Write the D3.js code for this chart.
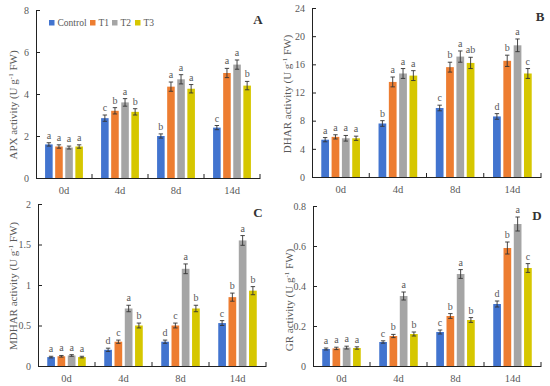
<!DOCTYPE html>
<html>
<head>
<meta charset="utf-8">
<script src="https://cdn.jsdelivr.net/npm/d3@7"></script>
<style>
  body { margin: 0; background: #fff; }
  svg { display: block; font-family: "Liberation Serif", "Times New Roman", serif; }
</style>
</head>
<body>
<svg id="chart" width="550" height="386"></svg>
<script>
// categories and series
const days = ["0d", "4d", "8d", "14d"];
const treatments = ["Control", "T1", "T2", "T3"];

// values per day: [Control, T1, T2, T3]
const apxMean = [[1.6, 1.5, 1.45, 1.5], [2.85, 3.2, 3.6, 3.15], [2.0, 4.35, 4.7, 4.25], [2.4, 5.0, 5.4, 4.4]];
const apxErr = [[0.08, 0.08, 0.07, 0.08], [0.15, 0.15, 0.18, 0.15], [0.1, 0.22, 0.22, 0.2], [0.1, 0.22, 0.22, 0.2]];
const apxLetters = [["a", "a", "a", "a"], ["c", "b", "a", "b"], ["b", "a", "a", "a"], ["c", "a", "a", "b"]];

const dharMean = [[5.3, 5.7, 5.5, 5.5], [7.6, 13.5, 14.7, 14.4], [9.8, 15.6, 17.1, 16.2], [8.6, 16.5, 18.7, 14.7]];
const dharErr = [[0.3, 0.3, 0.4, 0.3], [0.4, 0.7, 0.7, 0.7], [0.4, 0.7, 0.8, 0.8], [0.4, 0.8, 0.9, 0.7]];
const dharLetters = [["a", "a", "a", "a"], ["b", "a", "a", "a"], ["c", "b", "a", "ab"], ["d", "b", "a", "c"]];

const mdharMean = [[0.11, 0.12, 0.13, 0.11], [0.2, 0.3, 0.71, 0.5], [0.3, 0.5, 1.2, 0.71], [0.53, 0.85, 1.55, 0.93]];
const mdharErr = [[0.01, 0.01, 0.01, 0.01], [0.02, 0.02, 0.04, 0.03], [0.02, 0.03, 0.06, 0.04], [0.03, 0.05, 0.06, 0.05]];
const mdharLetters = [["a", "a", "a", "a"], ["d", "c", "a", "b"], ["d", "c", "a", "b"], ["c", "b", "a", "b"]];

const grMean = [[0.085, 0.088, 0.092, 0.09], [0.12, 0.15, 0.35, 0.16], [0.17, 0.25, 0.46, 0.23], [0.31, 0.59, 0.71, 0.49]];
const grErr = [[0.005, 0.006, 0.007, 0.006], [0.006, 0.008, 0.02, 0.01], [0.01, 0.012, 0.022, 0.012], [0.015, 0.03, 0.035, 0.022]];
const grLetters = [["a", "a", "a", "a"], ["c", "b", "a", "b"], ["c", "b", "a", "b"], ["d", "b", "a", "c"]];

// y tick labels
const apxTicks = [0, 2, 4, 6, 8];
const dharTicks = [0, 4, 8, 12, 16, 20, 24];
const mdharTicks = [0, 0.5, 1, 1.5, 2];
const grTicks = [0, 0.2, 0.4, 0.6, 0.8];

const colors = ["#4274CF", "#ED7D31", "#A5A5A5", "#D6C700"];
const textColor = "#595959";

const svg = d3.select("#chart");

const panels = [
  { mean: apxMean, err: apxErr, letters: apxLetters, ticks: apxTicks, enzyme: "APX", tag: "A",
    left: 36, right: 260, top: 10, bottom: 178, titleX: 17, titleY: 105, tagX: 258, tagY: 24, legend: true },
  { mean: dharMean, err: dharErr, letters: dharLetters, ticks: dharTicks, enzyme: "DHAR", tag: "B",
    left: 312, right: 541, top: 8, bottom: 177, titleX: 291, titleY: 94, tagX: 540, tagY: 21 },
  { mean: mdharMean, err: mdharErr, letters: mdharLetters, ticks: mdharTicks, enzyme: "MDHAR", tag: "C",
    left: 38, right: 266, top: 204, bottom: 366, titleX: 17, titleY: 286, tagX: 258, tagY: 217 },
  { mean: grMean, err: grErr, letters: grLetters, ticks: grTicks, enzyme: "GR", tag: "D",
    left: 313, right: 541, top: 206, bottom: 366, titleX: 293, titleY: 300, tagX: 537, tagY: 220 },
];

panels.forEach((p) => drawPanel(p));

function drawPanel(p) {
  const g = svg.append("g");

  const x0 = d3.scaleBand().domain(days).range([p.left, p.right]).padding(0);
  const x1 = d3.scaleBand().domain(treatments).range([0, x0.bandwidth()])
    .paddingInner(0.25).paddingOuter(0.9);
  const y = d3.scaleLinear().domain([0, d3.max(p.ticks)]).range([p.bottom, p.top]);

  // bars
  const rows = [];
  days.forEach((d, i) => treatments.forEach((t, j) => rows.push({
    day: d, trt: t, j, v: p.mean[i][j], e: p.err[i][j], l: p.letters[i][j]
  })));

  g.append("g").selectAll("rect").data(rows).join("rect")
    .attr("x", (d) => x0(d.day) + x1(d.trt))
    .attr("y", (d) => y(d.v))
    .attr("width", x1.bandwidth())
    .attr("height", (d) => y(0) - y(d.v))
    .attr("fill", (d) => colors[d.j]);

  // error bars
  const eb = g.append("g").attr("stroke", "#333").attr("stroke-width", 0.9);
  const cx = (d) => x0(d.day) + x1(d.trt) + x1.bandwidth() / 2;
  eb.selectAll("line.v").data(rows).join("line").attr("class", "v")
    .attr("x1", cx).attr("x2", cx)
    .attr("y1", (d) => y(d.v - d.e)).attr("y2", (d) => y(d.v + d.e));
  ["-", "+"].forEach((s) => {
    eb.selectAll("line.c" + (s === "+" ? "t" : "b")).data(rows).join("line")
      .attr("class", "c" + (s === "+" ? "t" : "b"))
      .attr("x1", (d) => cx(d) - 2.2).attr("x2", (d) => cx(d) + 2.2)
      .attr("y1", (d) => y(s === "+" ? d.v + d.e : d.v - d.e))
      .attr("y2", (d) => y(s === "+" ? d.v + d.e : d.v - d.e));
  });

  // significance letters
  g.append("g").selectAll("text").data(rows).join("text")
    .attr("x", cx)
    .attr("y", (d) => y(d.v + d.e) - 4)
    .attr("text-anchor", "middle")
    .attr("font-size", 10)
    .attr("fill", textColor)
    .text((d) => d.l);

  // y axis, ticks inside
  const yAxis = g.append("g")
    .attr("transform", `translate(${p.left},0)`)
    .call(d3.axisLeft(y).tickValues(p.ticks).tickSize(-4).tickSizeOuter(0).tickPadding(7)
      .tickFormat((v) => String(v)));
  yAxis.select(".domain").attr("stroke", "#222");
  yAxis.selectAll(".tick line").attr("stroke", "#222");
  yAxis.selectAll("text").attr("font-size", 10).attr("font-family", "Liberation Serif").attr("fill", textColor);

  // x axis: labels at centers, ticks at band boundaries
  const xAxis = g.append("g")
    .attr("transform", `translate(0,${p.bottom})`)
    .call(d3.axisBottom(x0).tickSize(0).tickPadding(9).tickSizeOuter(0));
  xAxis.select(".domain").attr("stroke", "#222");
  xAxis.selectAll("text").attr("font-size", 10.5).attr("font-family", "Liberation Serif").attr("fill", textColor);
  g.append("g").selectAll("line").data(days).join("line")
    .attr("x1", (d) => x0(d) + x0.bandwidth()).attr("x2", (d) => x0(d) + x0.bandwidth())
    .attr("y1", p.bottom).attr("y2", p.bottom - 4)
    .attr("stroke", "#222");

  // y title
  const title = g.append("text")
    .attr("transform", `translate(${p.titleX},${p.titleY}) rotate(-90)`)
    .attr("text-anchor", "middle")
    .attr("font-size", 11)
    .attr("fill", textColor);
  title.append("tspan").text(`${p.enzyme} activity (U g`);
  title.append("tspan").attr("font-size", 7).attr("dy", -4).text("-1");
  title.append("tspan").attr("dy", 4).text(" FW)");

  // panel tag
  g.append("text")
    .attr("x", p.tagX).attr("y", p.tagY)
    .attr("text-anchor", "middle")
    .attr("font-size", 13)
    .attr("font-weight", "bold")
    .attr("fill", "#333")
    .text(p.tag);

  if (p.legend) {
    const legendX = [49, 90, 112, 135];
    const lg = g.append("g").selectAll("g").data(treatments).join("g")
      .attr("transform", (d, i) => `translate(${legendX[i]},23)`);
    lg.append("rect").attr("x", 0).attr("y", -3).attr("width", 5.5).attr("height", 5.5)
      .attr("fill", (d, i) => colors[i]);
    lg.append("text").attr("x", 8.5).attr("y", 3)
      .attr("font-size", 9.5).attr("fill", textColor).text((d) => d);
  }
}
</script>
</body>
</html>
